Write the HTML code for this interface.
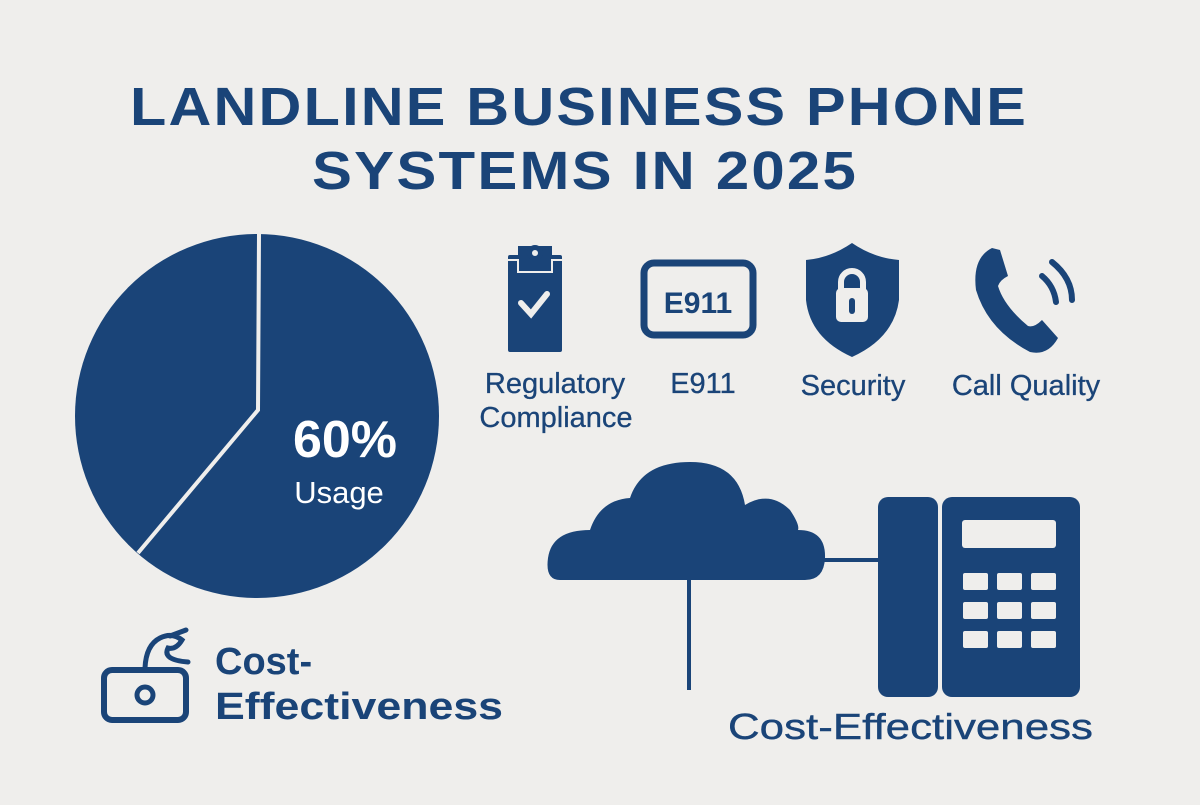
<!DOCTYPE html>
<html><head><style>
body{margin:0;width:1200px;height:800px;background:#efeeec;overflow:hidden;font-family:"Liberation Sans",sans-serif;}
</style></head><body>
<svg width="1200" height="800" viewBox="0 0 1200 800" xmlns="http://www.w3.org/2000/svg">
<g fill="#1a4478" font-family="Liberation Sans, sans-serif" font-weight="bold">
<text x="579" y="125" text-anchor="middle" font-size="54" letter-spacing="2" textLength="898" lengthAdjust="spacingAndGlyphs">LANDLINE BUSINESS PHONE</text>
<text x="585" y="189" text-anchor="middle" font-size="54" letter-spacing="2" textLength="546" lengthAdjust="spacingAndGlyphs">SYSTEMS IN 2025</text>
</g>
<circle cx="257" cy="416" r="182" fill="#1a4478"/>
<polyline points="259,234 258,410 138,553" fill="none" stroke="#efeeec" stroke-width="4"/>
<text x="345" y="457" text-anchor="middle" fill="#fff" font-size="52" font-weight="bold">60%</text>
<text x="339" y="503" text-anchor="middle" fill="#fff" font-size="31">Usage</text>
<rect x="508" y="255" width="54" height="97" rx="2" fill="#1a4478"/>
<rect x="518" y="246" width="34" height="16" fill="#1a4478"/>
<circle cx="535" cy="253" r="8" fill="#1a4478"/>
<circle cx="535" cy="253" r="3" fill="#efeeec"/>
<path d="M508 260 H518 V272 H552 V260 H562" fill="none" stroke="#efeeec" stroke-width="2"/>
<polyline points="521,303 531,314 547,294" fill="none" stroke="#efeeec" stroke-width="6" stroke-linecap="round"/>
<rect x="644" y="263" width="109" height="72" rx="10" fill="none" stroke="#1a4478" stroke-width="7"/>
<text x="698" y="313" text-anchor="middle" fill="#1a4478" font-size="30" font-weight="bold">E911</text>
<path d="M852 243 Q830 258 806 260 L806 300 Q810 338 852 357 Q894 338 899 300 L899 260 Q874 258 852 243 Z" fill="#1a4478"/>
<path d="M841 290 V282 A11 11 0 0 1 863 282 V290" fill="none" stroke="#efeeec" stroke-width="6"/>
<rect x="836" y="288" width="32" height="34" rx="5" fill="#efeeec"/>
<rect x="849" y="298" width="6" height="16" rx="3" fill="#1a4478"/>
<path d="M992 248 Q972 258 976 290 Q988 330 1030 352 Q1048 356 1058 338 L1042 320 Q1034 328 1028 326 Q1004 306 998 286 Q1000 280 1008 276 L1000 250 Z" fill="#1a4478"/>
<path d="M1042 276 Q1054 286 1056 302" fill="none" stroke="#1a4478" stroke-width="6" stroke-linecap="round"/>
<path d="M1052 262 Q1072 278 1072 300" fill="none" stroke="#1a4478" stroke-width="6" stroke-linecap="round"/>
<g fill="#1a4478" font-size="29" font-weight="bold" stroke="#1a4478" stroke-width="0.3">
<text x="555" y="393" text-anchor="middle" font-weight="normal">Regulatory</text>
<text x="556" y="427" text-anchor="middle" font-weight="normal">Compliance</text>
<text x="703" y="393" text-anchor="middle" font-weight="normal">E911</text>
<text x="853" y="395" text-anchor="middle" font-weight="normal">Security</text>
<text x="1026" y="395" text-anchor="middle" font-weight="normal">Call Quality</text>
</g>
<path d="M560 580 Q545 580 548 558 Q552 530 590 530 Q600 500 630 498 Q642 462 690 462 Q738 462 745 505 Q770 490 790 510 Q800 525 798 530 Q826 530 825 558 Q824 580 805 580 Z" fill="#1a4478"/>
<line x1="689" y1="578" x2="689" y2="690" stroke="#1a4478" stroke-width="4"/>
<line x1="822" y1="560" x2="882" y2="560" stroke="#1a4478" stroke-width="4"/>
<rect x="878" y="497" width="60" height="200" rx="10" fill="#1a4478"/>
<rect x="942" y="497" width="138" height="200" rx="10" fill="#1a4478"/>
<rect x="962" y="520" width="94" height="28" rx="3" fill="#efeeec"/>
<g fill="#efeeec">
<rect x="963" y="573" width="25" height="17" rx="2"/><rect x="997" y="573" width="25" height="17" rx="2"/><rect x="1031" y="573" width="25" height="17" rx="2"/>
<rect x="963" y="602" width="25" height="17" rx="2"/><rect x="997" y="602" width="25" height="17" rx="2"/><rect x="1031" y="602" width="25" height="17" rx="2"/>
<rect x="963" y="631" width="25" height="17" rx="2"/><rect x="997" y="631" width="25" height="17" rx="2"/><rect x="1031" y="631" width="25" height="17" rx="2"/>
</g>
<text x="728" y="739" fill="#1a4478" font-size="36" stroke="#1a4478" stroke-width="0.4" textLength="365" lengthAdjust="spacingAndGlyphs">Cost-Effectiveness</text>
<rect x="104" y="670" width="82" height="50" rx="8" fill="none" stroke="#1a4478" stroke-width="6"/>
<circle cx="145" cy="695" r="8" fill="none" stroke="#1a4478" stroke-width="5"/>
<path d="M145 668 Q146 645 160 638 Q172 632 182 640 Q176 650 168 648 Q162 660 188 662 M170 636 L186 630" fill="none" stroke="#1a4478" stroke-width="5" stroke-linecap="round"/>
<g fill="#1a4478" font-size="38" font-weight="bold">
<text x="215" y="674">Cost-</text>
<text x="215" y="719" textLength="288" lengthAdjust="spacingAndGlyphs">Effectiveness</text>
</g>
</svg>
</body></html>
